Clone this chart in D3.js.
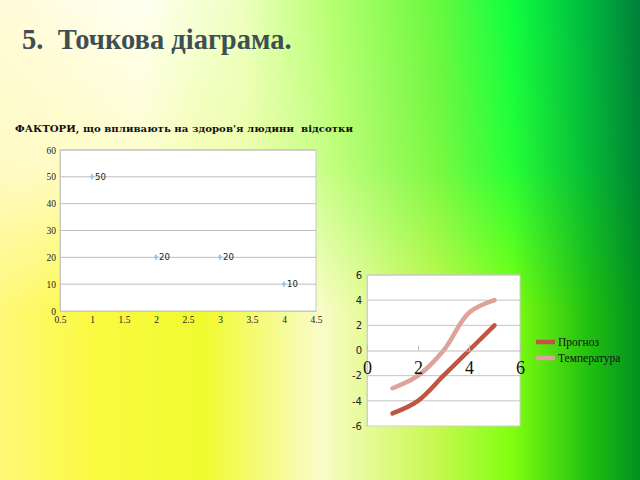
<!DOCTYPE html>
<html><head><meta charset="utf-8">
<script src="https://cdn.jsdelivr.net/npm/d3@7"></script>
<style>body{margin:0;padding:0;overflow:hidden}svg{display:block}</style>
</head><body>
<svg id="c" width="640" height="480"></svg>
<script>
// ---- data ----
const mainTitle = "5.  Точкова діаграма.";
const chart1Title = "ФАКТОРИ, що впливають на здоров'я людини  відсотки";
const scatterX = [1, 2, 3, 4];
const scatterY = [50, 20, 20, 10];
const scatterXTicks = [0.5, 1, 1.5, 2, 2.5, 3, 3.5, 4, 4.5];
const scatterYTicks = [0, 10, 20, 30, 40, 50, 60];

const lineX = [1, 2, 3, 4, 5];
const seriesNames = ["Прогноз", "Температура"];
const prognoz = [-5, -4, -2, 0, 2];
const temperatura = [-3, -2, 0, 3, 4];
const lineXTicks = [0, 2, 4, 6];
const lineYTicks = [-6, -4, -2, 0, 2, 4, 6];
const seriesColors = ["#bf5543", "#dfa29b"];

const svg = d3.select("#c");
const defs = svg.append("defs");
const plain = d => String(d).replace("\u2212", "-");

// ---- background ----
function lg(id, stops, x1, y1, x2, y2) {
  const g = defs.append("linearGradient").attr("id", id)
    .attr("x1", x1).attr("y1", y1).attr("x2", x2).attr("y2", y2);
  stops.forEach(s => g.append("stop").attr("offset", s[0]).attr("stop-color", s[1]));
}
lg("bgTop", [[0,"#fffbd8"],[0.22,"#fffff2"],[0.38,"#eeffc0"],[0.52,"#b6ff70"],[0.68,"#6af840"],[0.8,"#10ff40"],[0.92,"#00b840"],[1,"#00803a"]], 0,0,1,0);
lg("bgBot", [[0,"#fff878"],[0.15,"#fafa40"],[0.32,"#f0fa30"],[0.5,"#fafcc8"],[0.68,"#c8f850"],[0.8,"#80ff10"],[0.92,"#20c010"],[1,"#009020"]], 0,0,1,0);
lg("fadeV", [[0,"black"],[0.35,"#333"],[0.65,"white"],[1,"white"]], 0,0,0,1);
defs.append("mask").attr("id","mk").append("rect").attr("width",640).attr("height",480).attr("fill","url(#fadeV)");
svg.append("rect").attr("width",640).attr("height",480).attr("fill","url(#bgTop)");
svg.append("rect").attr("width",640).attr("height",480).attr("fill","url(#bgBot)").attr("mask","url(#mk)");

// ---- main title ----
svg.append("text").attr("x", 22).attr("y", 49)
  .attr("font-family", "Liberation Serif, Times New Roman, serif")
  .attr("font-weight", "bold").attr("font-size", 28.5).attr("fill", "#3d4f52")
  .style("white-space","pre")
  .text(mainTitle);

// ---- chart 1: scatter ----
const p1 = {l: 60, r: 316, t: 150, b: 311};
const x1 = d3.scaleLinear().domain([0.5, 4.5]).range([p1.l, p1.r]);
const y1 = d3.scaleLinear().domain([0, 60]).range([p1.b, p1.t]);

svg.append("text").attr("x", 15).attr("y", 132)
  .attr("font-family", "DejaVu Serif, serif").attr("font-weight", "bold")
  .attr("font-size", 9.5).attr("fill", "#111")
  .attr("textLength", 338).attr("lengthAdjust","spacingAndGlyphs")
  .style("white-space","pre")
  .text(chart1Title);

svg.append("rect").attr("x", p1.l).attr("y", p1.t).attr("width", p1.r - p1.l).attr("height", p1.b - p1.t)
  .attr("fill", "#fff").attr("stroke", "#c8c8c8");

const g1 = svg.append("g");
g1.selectAll("line.grid").data(scatterYTicks.filter(d => d > 0)).join("line")
  .attr("x1", p1.l).attr("x2", p1.r).attr("y1", d => y1(d)).attr("y2", d => y1(d))
  .attr("stroke", "#bdbdbd").attr("stroke-width", 1);

const ax1 = svg.append("g").attr("transform", `translate(0,${p1.b})`)
  .call(d3.axisBottom(x1).tickValues(scatterXTicks).tickSize(0).tickPadding(5).tickFormat(d => String(d)));
const ay1 = svg.append("g").attr("transform", `translate(${p1.l},0)`)
  .call(d3.axisLeft(y1).tickValues(scatterYTicks).tickSize(0).tickPadding(4).tickFormat(d => String(d)));
[ax1, ay1].forEach(a => {
  a.select(".domain").attr("stroke", "#c8c8c8");
  a.selectAll("text").attr("font-family", "Liberation Serif, serif").attr("font-size", 9.5).attr("fill", "#222");
});

const sym = d3.symbol().type(d3.symbolDiamond).size(14);
const pts = scatterX.map((x, i) => ({x, y: scatterY[i]}));
g1.selectAll("path.pt").data(pts).join("path")
  .attr("transform", d => `translate(${x1(d.x)},${y1(d.y)})`)
  .attr("d", sym).attr("fill", "#9fc6ee");
g1.selectAll("text.lbl").data(pts).join("text")
  .attr("x", d => x1(d.x) + 3).attr("y", d => y1(d.y)).attr("dy", "0.35em")
  .attr("font-family", "DejaVu Sans, sans-serif").attr("font-size", 8.5).attr("fill", "#222")
  .text(d => d.y);

// ---- chart 2: smooth lines ----
const p2 = {l: 367, r: 520, t: 275, b: 426};
const x2 = d3.scaleLinear().domain([0, 6]).range([p2.l, p2.r]);
const y2 = d3.scaleLinear().domain([-6, 6]).range([p2.b, p2.t]);

svg.append("rect").attr("x", p2.l).attr("y", p2.t).attr("width", p2.r - p2.l).attr("height", p2.b - p2.t)
  .attr("fill", "#fff").attr("stroke", "#cfcfcf");
const g2 = svg.append("g");
g2.selectAll("line.grid").data(lineYTicks.filter(d => d !== 0 && d !== -6)).join("line")
  .attr("x1", p2.l).attr("x2", p2.r).attr("y1", d => y2(d)).attr("y2", d => y2(d))
  .attr("stroke", "#c4c4c4");

const ay2 = svg.append("g").attr("transform", `translate(${p2.l},0)`)
  .call(d3.axisLeft(y2).tickValues(lineYTicks).tickSize(0).tickPadding(5).tickFormat(plain));
ay2.select(".domain").attr("stroke", "#cfcfcf");
ay2.selectAll("text").attr("font-family", "DejaVu Sans, sans-serif").attr("font-size", 10).attr("fill", "#222");

const ax2 = svg.append("g").attr("transform", `translate(0,${y2(0)})`)
  .call(d3.axisBottom(x2).tickValues(lineXTicks).tickSizeInner(-5).tickSizeOuter(0).tickPadding(11).tickFormat(plain));
ax2.select(".domain").attr("stroke", "#bdbdbd");
ax2.selectAll("line").attr("stroke", "#bdbdbd");
ax2.selectAll("text").attr("font-family", "Liberation Serif, serif").attr("font-size", 18).attr("fill", "#111");

const line = d3.line().x(d => x2(d.x)).y(d => y2(d.y)).curve(d3.curveCatmullRom.alpha(0.5));
[temperatura, prognoz].forEach((s, k) => {
  const idx = k === 0 ? 1 : 0;
  g2.append("path").datum(lineX.map((x, i) => ({x, y: s[i]})))
    .attr("d", line).attr("fill", "none").attr("stroke", seriesColors[idx])
    .attr("stroke-width", 4.5).attr("stroke-linecap", "round");
});

// legend
const lg2 = svg.append("g");
seriesNames.forEach((n, i) => {
  const yy = 342 + i * 16;
  lg2.append("line").attr("x1", 536).attr("x2", 555).attr("y1", yy).attr("y2", yy)
    .attr("stroke", seriesColors[i]).attr("stroke-width", 4.5);
  lg2.append("text").attr("x", 558).attr("y", yy).attr("dy", "0.35em")
    .attr("font-family", "Liberation Serif, serif").attr("font-size", 11.5).attr("fill", "#111")
    .text(n);
});
</script>
</body></html>
